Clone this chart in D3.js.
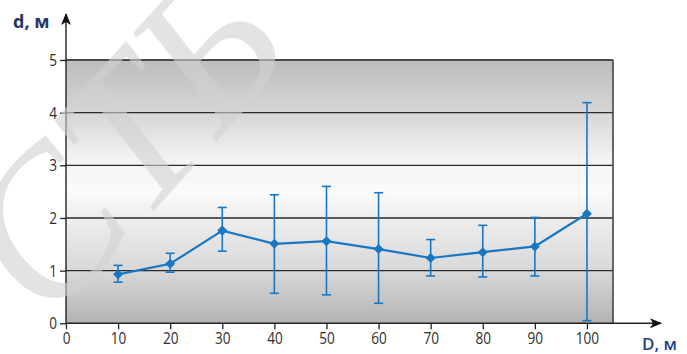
<!DOCTYPE html>
<html>
<head>
<meta charset="utf-8">
<script src="https://cdn.jsdelivr.net/npm/d3@7"></script>
<style>
  html, body { margin: 0; padding: 0; background: #fff; }
  svg { display: block; }
  .tick text { transform-box: fill-box; transform-origin: center; transform: scaleX(0.8); }
</style>
</head>
<body>
<svg id="chart" width="687" height="354"></svg>
<script>
// Distance D (m) and mean deviation d (m) with lower/upper bounds
const distances = [10, 20, 30, 40, 50, 60, 70, 80, 90, 100];
const meanValues = [0.93, 1.13, 1.76, 1.51, 1.56, 1.41, 1.24, 1.35, 1.46, 2.08];
const lowValues  = [0.78, 0.97, 1.37, 0.57, 0.54, 0.38, 0.90, 0.88, 0.90, 0.05];
const highValues = [1.10, 1.33, 2.20, 2.44, 2.60, 2.48, 1.59, 1.86, 2.01, 4.19];
const xTickValues = [0, 10, 20, 30, 40, 50, 60, 70, 80, 90, 100];
const yTickValues = [0, 1, 2, 3, 4, 5];
const xAxisTitle = "D, м";
const yAxisTitle = "d, м";
const watermarkText = "СТБ";

const svg = d3.select("#chart");
const plotLeft = 66, plotRight = 613, plotTop = 60, plotBottom = 323.3;

const x = d3.scaleLinear().domain([0, 105]).range([plotLeft, plotRight]);
const y = d3.scaleLinear().domain([0, 5]).range([plotBottom, plotTop]);

const blue = "#1877c3";
const defs = svg.append("defs");

// vertical shading of the plot area: grey at top and bottom, white in the middle
const grad = defs.append("linearGradient")
  .attr("id", "bg").attr("x1", 0).attr("y1", 0).attr("x2", 0).attr("y2", 1);
[[0, "#bcbdbe"], [0.2, "#d6d6d7"], [0.38, "#f3f3f3"], [0.5, "#fbfbfb"], [0.6, "#eeeeee"],
 [0.8, "#d8d8d8"], [1, "#b3b3b3"]].forEach(([o, c]) =>
  grad.append("stop").attr("offset", o).attr("stop-color", c));

// arrowheads for the axes
const arrow = defs.append("marker")
  .attr("id", "arrow").attr("viewBox", "0 0 12 10")
  .attr("refX", 11).attr("refY", 5)
  .attr("markerWidth", 12).attr("markerHeight", 10)
  .attr("markerUnits", "userSpaceOnUse")
  .attr("orient", "auto");
arrow.append("path").attr("d", "M0,0 L12,5 L0,10 L3,5 Z").attr("fill", "#111");

svg.append("rect")
  .attr("x", plotLeft).attr("y", plotTop)
  .attr("width", plotRight - plotLeft).attr("height", plotBottom - plotTop)
  .attr("fill", "url(#bg)");

// horizontal grid lines
svg.append("g").selectAll("line")
  .data(yTickValues.filter(v => v > 0))
  .join("line")
  .attr("x1", plotLeft).attr("x2", plotRight)
  .attr("y1", d => y(d)).attr("y2", d => y(d))
  .attr("stroke", d => d === 5 ? "#4a4a4a" : "#2b2b2b")
  .attr("stroke-width", d => d === 5 ? 1.8 : 1.3);

// right frame edge
svg.append("line")
  .attr("x1", plotRight).attr("x2", plotRight).attr("y1", plotTop).attr("y2", plotBottom)
  .attr("stroke", "#444").attr("stroke-width", 1.6);

// axes
const tickFont = "'Open Sans', 'DejaVu Sans', sans-serif";
const yAxis = svg.append("g")
  .attr("transform", `translate(${plotLeft},0)`)
  .call(d3.axisLeft(y).tickValues(yTickValues).tickSize(6).tickPadding(2).tickFormat(d3.format("d")));
const xAxis = svg.append("g")
  .attr("transform", `translate(0,${plotBottom})`)
  .call(d3.axisBottom(x).tickValues(xTickValues).tickSize(6).tickPadding(3).tickFormat(d3.format("d")));
[yAxis, xAxis].forEach(g => {
  g.select(".domain").remove();
  g.selectAll(".tick line").attr("stroke", "#222").attr("stroke-width", 1.3);
  g.selectAll(".tick text")
    .attr("fill", "#2e2e2e")
    .style("font-family", tickFont)
    .style("font-size", "17px");
});

svg.append("line")
  .attr("x1", plotLeft).attr("y1", plotBottom + 0.5).attr("x2", plotLeft).attr("y2", 14)
  .attr("stroke", "#222").attr("stroke-width", 1.4)
  .attr("marker-end", "url(#arrow)");
svg.append("line")
  .attr("x1", plotLeft - 0.5).attr("y1", plotBottom).attr("x2", 661).attr("y2", plotBottom)
  .attr("stroke", "#222").attr("stroke-width", 1.4)
  .attr("marker-end", "url(#arrow)");

// axis titles
const titleFont = "'Open Sans', 'DejaVu Sans', sans-serif";
svg.append("text")
  .attr("x", 13).attr("y", 28)
  .attr("fill", "#24356a")
  .style("font-family", titleFont).style("font-size", "18px").style("font-weight", "700")
  .text(yAxisTitle);
svg.append("text")
  .attr("x", 642).attr("y", 350)
  .attr("fill", "#1f3f8c")
  .style("font-family", titleFont).style("font-size", "17px").style("font-weight", "600")
  .text(xAxisTitle);

// error bars
const points = distances.map((d, i) => ({ d, m: meanValues[i], lo: lowValues[i], hi: highValues[i] }));
const eb = svg.append("g").attr("stroke", blue).attr("stroke-width", 1.6);
eb.selectAll("line.v").data(points).join("line").attr("class", "v")
  .attr("x1", p => x(p.d)).attr("x2", p => x(p.d))
  .attr("y1", p => y(p.lo)).attr("y2", p => y(p.hi));
eb.selectAll("line.t").data(points).join("line").attr("class", "t")
  .attr("x1", p => x(p.d) - 4.5).attr("x2", p => x(p.d) + 4.5)
  .attr("y1", p => y(p.hi)).attr("y2", p => y(p.hi));
eb.selectAll("line.b").data(points).join("line").attr("class", "b")
  .attr("x1", p => x(p.d) - 4.5).attr("x2", p => x(p.d) + 4.5)
  .attr("y1", p => y(p.lo)).attr("y2", p => y(p.lo));

// mean line with diamond markers
svg.append("path")
  .datum(points)
  .attr("fill", "none").attr("stroke", blue).attr("stroke-width", 2.2)
  .attr("d", d3.line().x(p => x(p.d)).y(p => y(p.m)));
svg.append("g").selectAll("path")
  .data(points).join("path")
  .attr("transform", p => `translate(${x(p.d)},${y(p.m)})`)
  .attr("d", d3.symbol(d3.symbolDiamond2, 64))
  .attr("fill", blue);

// faint diagonal watermark
svg.append("text")
  .attr("transform", "translate(50,326) rotate(-48)")
  .attr("fill", "#d2d2d2").attr("opacity", 0.6)
  .style("font-family", "'Liberation Serif', 'DejaVu Serif', serif")
  .style("font-style", "italic")
  .style("font-size", "205px")
  .style("pointer-events", "none")
  .text(watermarkText);
</script>
</body>
</html>
